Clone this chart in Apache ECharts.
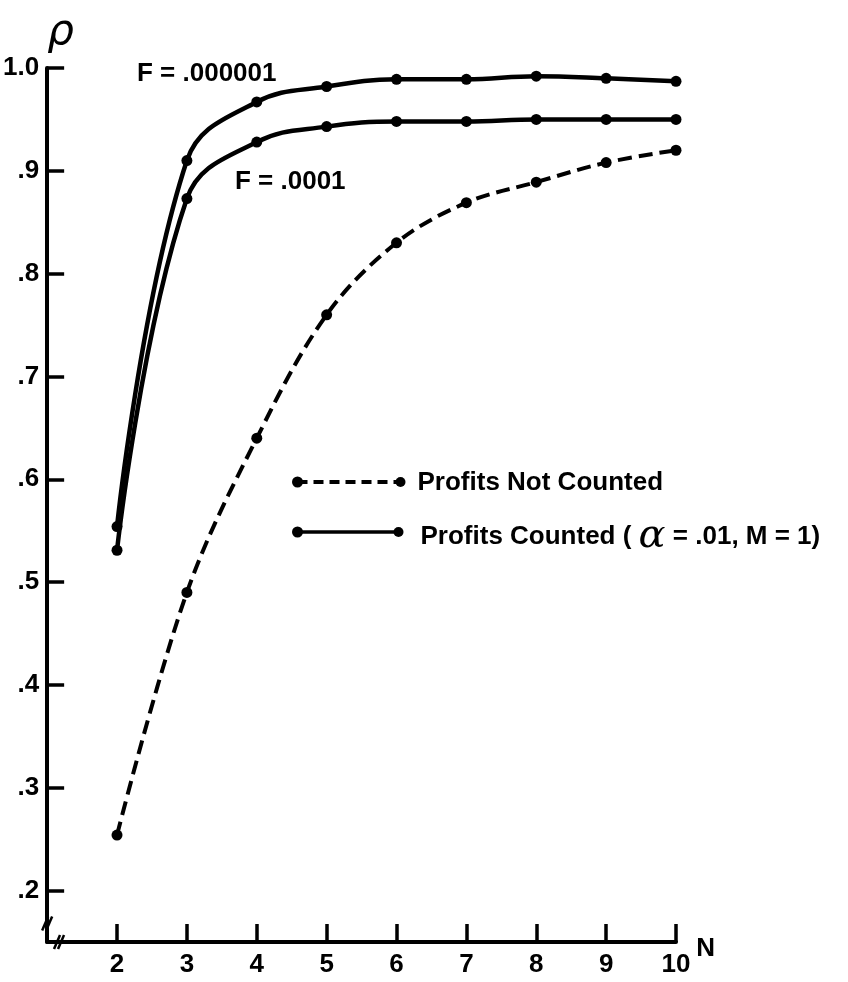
<!DOCTYPE html>
<html>
<head>
<meta charset="utf-8">
<script src="https://cdn.jsdelivr.net/npm/echarts@6/dist/echarts.min.js"></script>
<style>
  html, body { margin: 0; padding: 0; background: #fff; }
  #chart { width: 848px; height: 982px; }
</style>
</head>
<body>
<div id="chart"></div>
<script>
  // values
  const nValues = [2, 3, 4, 5, 6, 7, 8, 9, 10];
  const rhoNotCounted = [0.254, 0.490, 0.640, 0.760, 0.830, 0.869, 0.889, 0.908, 0.920];
  const rhoF000001 = [0.554, 0.910, 0.967, 0.982, 0.989, 0.989, 0.992, 0.990, 0.987];
  const rhoF0001 = [0.531, 0.873, 0.928, 0.943, 0.948, 0.948, 0.950, 0.950, 0.950];
  const yTickValues = [0.2, 0.3, 0.4, 0.5, 0.6, 0.7, 0.8, 0.9, 1.0];
  const yTickLabels = ['.2', '.3', '.4', '.5', '.6', '.7', '.8', '.9', '1.0'];
  const xTickValues = [2, 3, 4, 5, 6, 7, 8, 9, 10];

  const FONT = '"Liberation Sans", Arial, sans-serif';
  const INK = '#000';

  function pairs(ys) {
    return nValues.map(function (n, i) { return [n, ys[i]]; });
  }

  let chart = echarts.init(document.getElementById('chart'));

  chart.setOption({
    backgroundColor: '#fff',
    animation: false,
    grid: { left: 46, right: 172, top: 68, bottom: 40 },
    xAxis: {
      type: 'value',
      min: 1,
      max: 10,
      name: 'N',
      nameLocation: 'end',
      nameGap: 20,
      nameTextStyle: { fontFamily: FONT, fontWeight: 'bold', fontSize: 26, color: INK, verticalAlign: 'top', padding: [-6, 0, 0, 0] },
      axisLine: { lineStyle: { color: INK, width: 4 } },
      axisTick: { show: true, inside: true, length: 18, lineStyle: { color: INK, width: 3.5 }, customValues: xTickValues },
      axisLabel: { margin: 10, fontFamily: FONT, fontWeight: 'bold', fontSize: 26, color: INK, customValues: xTickValues },
      splitLine: { show: false }
    },
    yAxis: {
      type: 'value',
      min: 0.15,
      max: 1.0,
      name: 'ρ',
      nameLocation: 'end',
      nameGap: 14,
      nameTextStyle: { fontFamily: '"DejaVu Sans", sans-serif', fontStyle: 'italic', fontSize: 42, color: INK, align: 'left' },
      axisLine: { lineStyle: { color: INK, width: 4 } },
      axisTick: { show: true, inside: true, length: 17, lineStyle: { color: INK, width: 3.5 }, customValues: yTickValues },
      axisLabel: {
        margin: 8,
        fontFamily: FONT, fontWeight: 'bold', fontSize: 26, color: INK,
        customValues: yTickValues,
        formatter: function (v) {
          let i = yTickValues.findIndex(function (t) { return Math.abs(t - v) < 1e-6; });
          return i >= 0 ? yTickLabels[i] : '';
        }
      },
      splitLine: { show: false }
    },
    series: [
      {
        name: 'Profits Not Counted',
        type: 'line',
        smooth: 0.35,
        data: pairs(rhoNotCounted),
        symbol: 'circle',
        symbolSize: 11,
        itemStyle: { color: INK },
        lineStyle: { color: INK, width: 4, type: [14, 7] }
      },
      {
        name: 'F = .000001',
        type: 'line',
        smooth: 0.4,
        data: pairs(rhoF000001),
        symbol: 'circle',
        symbolSize: 11,
        clip: false,
        itemStyle: { color: INK },
        lineStyle: { color: INK, width: 4.5 }
      },
      {
        name: 'F = .0001',
        type: 'line',
        smooth: 0.4,
        data: pairs(rhoF0001),
        symbol: 'circle',
        symbolSize: 11,
        itemStyle: { color: INK },
        lineStyle: { color: INK, width: 4.5 }
      }
    ]
  });

  // curve labels, legend and axis break marks
  let yBreak = chart.convertToPixel({ gridIndex: 0 }, [1, 0.168]);
  let xBreak = chart.convertToPixel({ gridIndex: 0 }, [1.17, 0.15]);
  let txt = { fontFamily: FONT, fontWeight: 'bold', fontSize: 26, fill: INK };

  function breakMark(p) {
    return [
      { type: 'line', shape: { x1: p[0] - 5, y1: p[1] + 7, x2: p[0] + 1, y2: p[1] - 7 }, style: { stroke: INK, lineWidth: 2.5 } },
      { type: 'line', shape: { x1: p[0] - 1, y1: p[1] + 7, x2: p[0] + 5, y2: p[1] - 7 }, style: { stroke: INK, lineWidth: 2.5 } }
    ];
  }

  chart.setOption({
    graphic: [
      { type: 'text', left: 137, top: 61, style: Object.assign({ text: 'F = .000001' }, txt) },
      { type: 'text', left: 235, top: 169, style: Object.assign({ text: 'F = .0001' }, txt) },
      {
        type: 'group', left: 292, top: 470,
        children: [
          { type: 'line', shape: { x1: 5, y1: 12, x2: 108, y2: 12 }, style: { stroke: INK, lineWidth: 4, lineDash: [10, 6] } },
          { type: 'circle', shape: { cx: 5, cy: 12, r: 5.5 }, style: { fill: INK } },
          { type: 'circle', shape: { cx: 108, cy: 12, r: 5 }, style: { fill: INK } },
          { type: 'text', x: 125, y: 0, style: Object.assign({ text: 'Profits Not Counted' }, txt) },
          { type: 'line', shape: { x1: 5, y1: 62, x2: 106, y2: 62 }, style: { stroke: INK, lineWidth: 3.5 } },
          { type: 'circle', shape: { cx: 5, cy: 62, r: 5.5 }, style: { fill: INK } },
          { type: 'circle', shape: { cx: 106, cy: 62, r: 5 }, style: { fill: INK } },
          {
            type: 'text', x: 128, y: 47,
            style: {
              text: 'Profits Counted ( {a|α} = .01, M = 1)',
              fontFamily: FONT, fontWeight: 'bold', fontSize: 26, fill: INK,
              rich: { a: { fontFamily: '"DejaVu Serif", serif', fontStyle: 'italic', fontSize: 40, fill: INK } }
            }
          }
        ]
      }
    ].concat(breakMark(yBreak), breakMark(xBreak))
  });
</script>
</body>
</html>
